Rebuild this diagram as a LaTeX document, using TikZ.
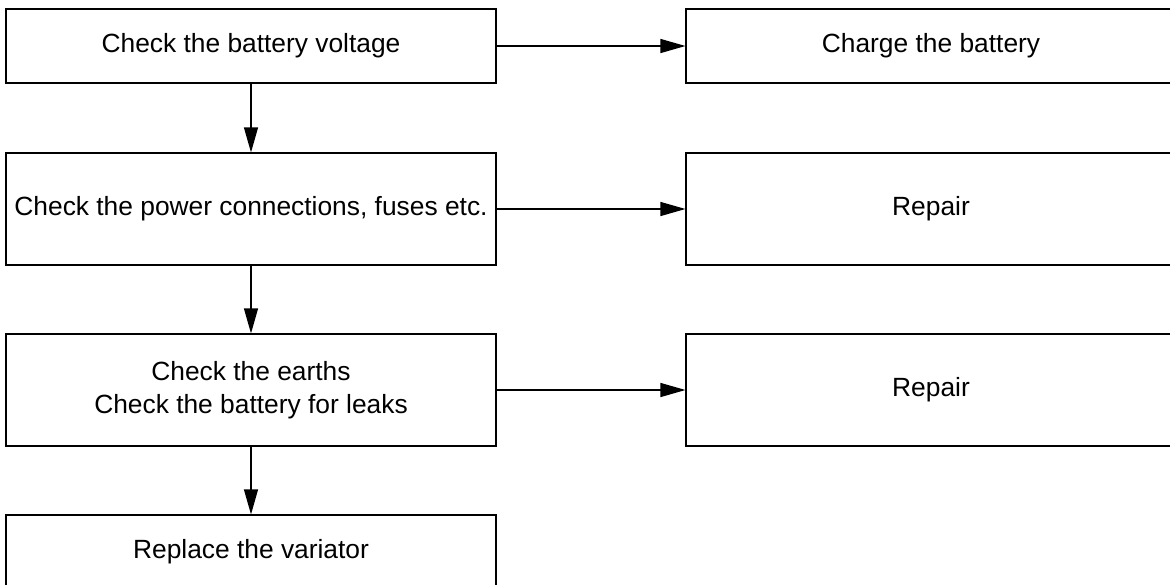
\documentclass[tikz,border=0pt]{standalone}
\usepackage{fontspec}
\setmainfont{Liberation Sans}
\usetikzlibrary{arrows.meta, positioning}
\tikzset{%
	check/.style={draw, rectangle, minimum width=9.8cm, inner sep=0mm,%
		align=center, line width=0.7pt, font=\fontsize{15pt}{18.7pt}\selectfont},
	short/.style={check, minimum height=1.48cm},
	tall/.style={check, minimum height=2.24cm},
	flow/.style={-{Triangle[length=0.5cm, width=0.28cm]}, line width=0.7pt}
}
\begin{document}
\begin{tikzpicture}[x=0.02cm, y=-0.02cm]
	\useasboundingbox (0,0) rectangle (1170,585);

	\node[short] (volt)     at (251,46)  {Check the battery voltage};
	\node[short] (charge)   at (931,46)  {Charge the battery};
	\node[tall]  (power)    at (251,209) {Check the power connections, fuses etc.};
	\node[tall]  (repairA)  at (931,209) {Repair};
	\node[tall]  (earth)    at (251,390) {Check the earths\\Check the battery for leaks};
	\node[tall]  (repairB)  at (931,390) {Repair};
	\node[short] (variator) at (251,552) {Replace the variator};

	\draw[flow] (volt)  -- (charge);
	\draw[flow] (power) -- (repairA);
	\draw[flow] (earth) -- (repairB);
	\draw[flow] (volt)  -- (power);
	\draw[flow] (power) -- (earth);
	\draw[flow] (earth) -- (variator);
\end{tikzpicture}
\end{document}
